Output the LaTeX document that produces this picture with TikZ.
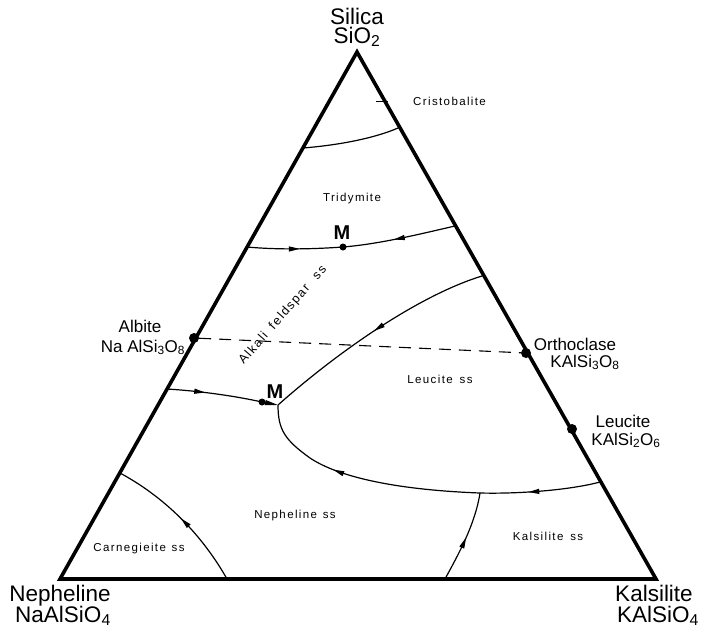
\documentclass[tikz,border=0pt]{standalone}
\usepackage{fontspec}
\setmainfont{Liberation Sans}
\newfontfamily\lblfont[LetterSpace=12]{Liberation Sans}
\usetikzlibrary{arrows.meta,decorations.markings}
\begin{document}
\begin{tikzpicture}[x=1pt,y=-1pt,
  edge/.style={line width=3.6pt, line join=miter},
  bnd/.style={line width=1.2pt},
  arr/.style={postaction={decorate}, decoration={markings, mark=at position #1 with {\arrow{Triangle[length=11pt,width=5pt]}}}},
  big/.style={font=\fontsize{22.5}{24}\selectfont, inner sep=0pt, anchor=base},
  mid/.style={font=\fontsize{17}{19}\selectfont, inner sep=0pt, anchor=base},
  small/.style={font=\lblfont\fontsize{11.5}{13}\selectfont, inner sep=0pt, anchor=base},
  mlab/.style={font=\bfseries\fontsize{20}{22}\selectfont, inner sep=0pt, anchor=base},
  dot/.style={circle, fill, inner sep=0pt, minimum size=#1}
]
\useasboundingbox (0,0) rectangle (703,630);

% triangle
\coordinate (S) at (357,52);
\coordinate (N) at (60,579);
\coordinate (K) at (656,579);
\draw[edge] (S) -- (N) -- (K) -- cycle;

% points on edges
\coordinate (cL) at (303,148);
\coordinate (cR) at (398,128);
\coordinate (tL) at (247,247);
\coordinate (tR) at (455,226);
\coordinate (fR) at (482,276);
\coordinate (lL) at (167,389);
\coordinate (J) at (278,405);
\coordinate (nR) at (600,482);
\coordinate (Kj) at (480,493);
\coordinate (kB) at (445,579);
\coordinate (gB) at (227,579);
\coordinate (gL) at (120,473);
\coordinate (tk1) at (376,101);
\coordinate (tk2) at (388,101);

% composition points
\node[dot=10pt] (albite) at (194,338) {};
\node[dot=10pt] (orth) at (526,353) {};
\node[dot=10pt] (leuc) at (572,429) {};
\node[dot=7pt] (m1) at (343,247) {};
\node[dot=7pt] (m2) at (262,402) {};

% dashed join
\draw[line width=1.1pt, dash pattern=on 12pt off 8pt] (albite) -- (orth);

% cristobalite tick
\draw[line width=0.9pt] (tk1) -- (tk2);

% boundaries
\draw[bnd] (cL) .. controls (340,145) and (375,138) .. (cR);
\draw[bnd, arr=0.55] (tL) .. controls (280,250) and (315,249) .. (m1.center);
\draw[bnd, arr=0.55] (tR) .. controls (420,234) and (380,244) .. (m1.center);
\draw[bnd, arr=0.5] (fR) .. controls (420,295) and (340,350) .. (J);
\draw[bnd, arr=0.4] (lL) .. controls (200,391) and (235,396) .. (m2.center);
\draw[bnd, -{Triangle[length=13pt,width=5pt]}] (m2.center) -- (J);
\draw[bnd, arr=0.6] (nR) .. controls (570,490) and (520,494) .. (Kj);
\draw[bnd, arr=0.62] (Kj) .. controls (400,490) and (340,478) .. (310,458)
   .. controls (285,440) and (278,430) .. (J);
\draw[bnd, arr=0.5] (kB) .. controls (458,555) and (475,525) .. (Kj);
\draw[bnd, arr=0.5] (gB) .. controls (205,540) and (170,500) .. (gL);

% vertex labels
\node[big] (silica) at (357,24) {Silica};
\node[big] (sio2) at (357,43) {SiO\textsubscript{2}};
\node[big] (neph) at (60,601) {Nepheline};
\node[big] (nephf) at (63,622) {NaAlSiO\textsubscript{4}};
\node[big] (kals) at (654,601) {Kalsilite};
\node[big] (kalsf) at (658,622) {KAlSiO\textsubscript{4}};

% composition labels
\node[mid] (albl) at (140,332) {Albite};
\node[mid] (alblf) at (143,352) {Na AlSi\textsubscript{3}O\textsubscript{8}};
\node[mid] (orthl) at (575,350) {Orthoclase};
\node[mid] (orthlf) at (585,367) {KAlSi\textsubscript{3}O\textsubscript{8}};
\node[mid] (leucl) at (623,427) {Leucite};
\node[mid] (leuclf) at (626,445) {KAlSi\textsubscript{2}O\textsubscript{6}};
\node[mlab] (m1l) at (342,239) {M};
\node[mlab] (m2l) at (275,398) {M};

% field labels
\node[small, anchor=base west] (crist) at (413,105) {Cristobalite};
\node[small] (trid) at (352,201) {Tridymite};
\node[small] (leucss) at (440,383) {Leucite\hspace{0.6em}ss};
\node[small] (nephss) at (295,518) {Nepheline\hspace{0.5em}ss};
\node[small] (kalsss) at (548,540) {Kalsilite\hspace{0.6em}ss};
\node[small] (carnss) at (139,551) {Carnegieite\hspace{0.5em}ss};
\node[font=\lblfont\fontsize{12.5}{15}\selectfont, rotate=49, inner sep=0pt] (alk) at (283,315) {Alkali\hspace{0.7em}feldspar\hspace{0.9em}ss};
\end{tikzpicture}
\end{document}
